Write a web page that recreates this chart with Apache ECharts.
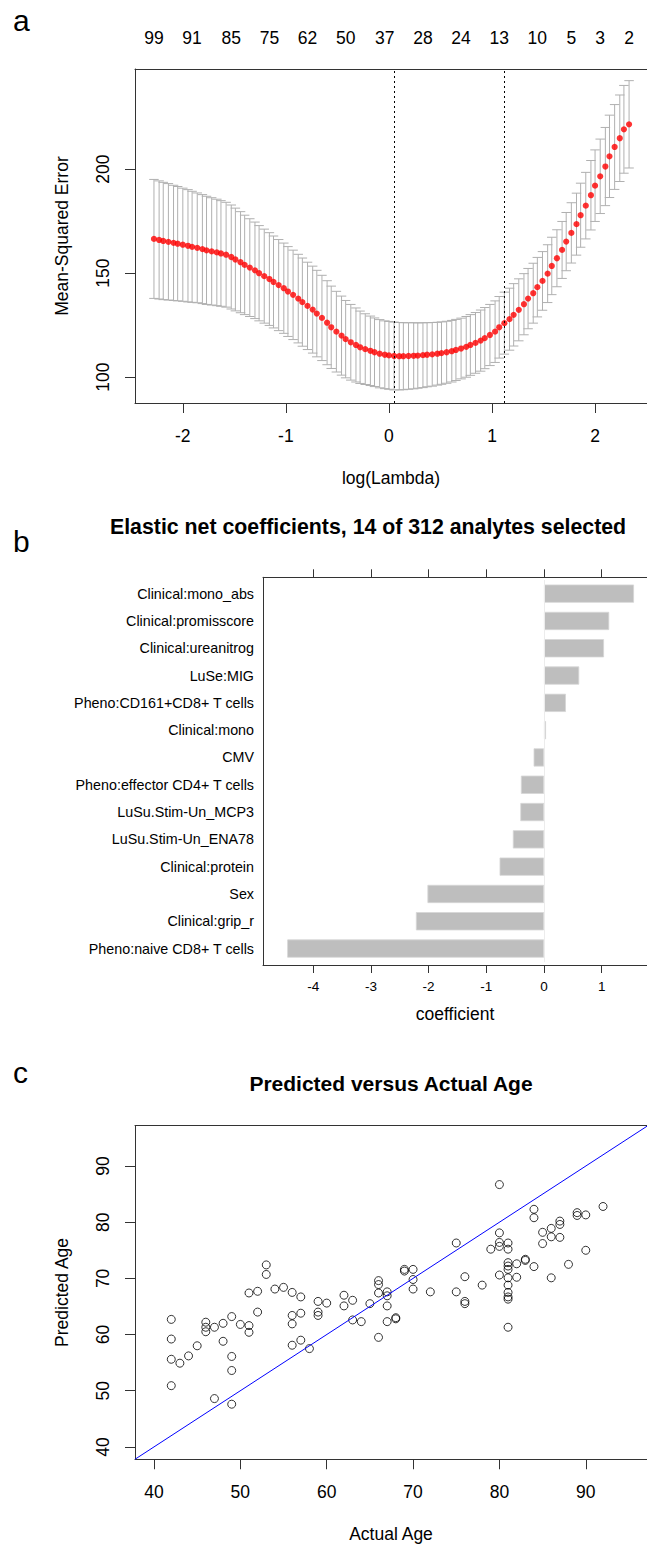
<!DOCTYPE html>
<html>
<head>
<meta charset="utf-8">
<script src="https://cdn.jsdelivr.net/npm/echarts@6/dist/echarts.min.js"></script>
<style>
  html, body { margin: 0; padding: 0; background: #ffffff; }
  #chart { width: 647px; height: 1544px; }
</style>
</head>
<body>
<div id="chart"></div>
<script>
// ---------- (a) cross-validation curve ----------
const logLambda = [
  -2.28, -2.23, -2.19, -2.14, -2.09, -2.05, -2.00, -1.95, -1.91, -1.86,
  -1.81, -1.77, -1.72, -1.67, -1.63, -1.58, -1.53, -1.49, -1.44, -1.40,
  -1.35, -1.30, -1.26, -1.21, -1.16, -1.12, -1.07, -1.02, -0.98, -0.93,
  -0.88, -0.84, -0.79, -0.74, -0.70, -0.65, -0.60, -0.56, -0.51, -0.46,
  -0.42, -0.37, -0.32, -0.28, -0.23, -0.18, -0.14, -0.09, -0.04, 0.00,
  0.05, 0.10, 0.14, 0.19, 0.24, 0.28, 0.33, 0.37, 0.42, 0.47,
  0.51, 0.56, 0.61, 0.65, 0.70, 0.75, 0.79, 0.84, 0.89, 0.93,
  0.98, 1.03, 1.07, 1.12, 1.17, 1.21, 1.26, 1.31, 1.35, 1.40,
  1.44, 1.49, 1.54, 1.58, 1.63, 1.68, 1.72, 1.77, 1.82, 1.86,
  1.91, 1.96, 2.00, 2.05, 2.10, 2.14, 2.19, 2.24, 2.28, 2.33
];
// mean cross-validated error
const cvm = [
  166.5, 166.0, 165.5, 165.1, 164.6, 164.2, 163.7, 163.2, 162.7, 162.2,
  161.6, 161.0, 160.5, 160.0, 159.5, 158.9, 157.8, 156.6, 155.3, 154.0,
  152.7, 151.4, 150.0, 148.6, 147.2, 145.8, 144.3, 142.8, 141.2, 139.6,
  137.8, 136.1, 134.3, 132.5, 130.6, 128.5, 126.2, 124.0, 121.9, 120.0,
  118.3, 116.8, 115.5, 114.4, 113.5, 112.7, 112.0, 111.3, 110.8, 110.5,
  110.2, 110.1, 110.1, 110.2, 110.3, 110.4, 110.6, 110.8, 111.0, 111.3,
  111.6, 112.0, 112.5, 113.1, 113.8, 114.6, 115.5, 116.5, 117.6, 118.8,
  120.3, 121.9, 124.0, 126.0, 127.9, 130.0, 132.4, 135.1, 137.8, 140.4,
  143.3, 146.3, 149.8, 153.5, 157.2, 161.2, 165.2, 169.4, 173.6, 177.9,
  182.5, 187.5, 192.1, 196.6, 201.3, 206.2, 210.7, 214.9, 219.2, 221.6
];
// standard error of the cross-validated error
const cvsd = [
  28.6, 28.4, 28.2, 28.0, 27.7, 27.5, 27.2, 27.0, 26.7, 26.4,
  26.2, 26.0, 25.8, 25.6, 25.4, 25.2, 25.0, 24.7, 24.3, 23.9,
  23.5, 23.2, 22.9, 22.6, 22.3, 22.1, 21.9, 21.7, 21.6, 21.5,
  21.3, 21.2, 21.0, 20.9, 20.8, 20.5, 20.2, 19.8, 19.4, 19.0,
  18.6, 18.2, 17.8, 17.4, 17.0, 16.7, 16.5, 16.4, 16.3, 16.3,
  16.3, 16.2, 16.1, 16.0, 15.9, 15.7, 15.6, 15.4, 15.3, 15.1,
  15.0, 14.9, 14.8, 14.7, 14.6, 14.6, 14.6, 14.6, 14.7, 14.7,
  14.7, 14.8, 14.8, 14.9, 14.9, 15.0, 14.9, 14.7, 14.5, 14.4,
  14.3, 14.1, 13.9, 13.8, 13.7, 13.7, 14.0, 14.5, 14.9, 15.4,
  16.0, 16.7, 17.2, 17.9, 18.8, 19.8, 20.4, 20.8, 21.1, 21.0
];
const lambdaMinIdx = 50;   // lambda.min
const lambda1seIdx = 73;   // lambda.1se
// number of non-zero coefficients shown along the top axis
const nzAtIdx = [0, 8, 16, 24, 32, 40, 48, 56, 64, 72, 80, 87, 93, 99];
const nzCount = [99, 91, 85, 75, 62, 50, 37, 28, 24, 13, 10, 5, 3, 2];
const aXTicks = [-2, -1, 0, 1, 2];
const aYTicks = [100, 150, 200];
const aXLim = [-2.464, 2.504];
const aYLim = [87.6, 248.2];

// ---------- (b) elastic net coefficients ----------
const analytes = [
  'Clinical:mono_abs', 'Clinical:promisscore', 'Clinical:ureanitrog', 'LuSe:MIG',
  'Pheno:CD161+CD8+ T cells', 'Clinical:mono', 'CMV', 'Pheno:effector CD4+ T cells',
  'LuSu.Stim-Un_MCP3', 'LuSu.Stim-Un_ENA78', 'Clinical:protein', 'Sex',
  'Clinical:grip_r', 'Pheno:naive CD8+ T cells'
];
const coefs = [1.56, 1.13, 1.04, 0.61, 0.38, 0.035, -0.18, -0.40, -0.41, -0.54, -0.77, -2.02, -2.22, -4.45];
const bXTicks = [-4, -3, -2, -1, 0, 1];
const bXLim = [-4.870, 1.785];

// ---------- (c) predicted versus actual age ----------
const actualAge = [
  42, 42, 42, 42, 43, 44, 45, 46, 46, 46, 47, 47, 48, 48, 49, 49, 49, 49, 50, 51,
  51, 51, 52, 52, 53, 53, 54, 55, 56, 56, 56, 56,
  57, 57, 57, 58, 59, 59, 59, 60, 62, 62, 63, 63, 64, 65, 66, 66, 66, 66,
  67, 67, 67, 67, 68, 68, 69, 69, 70, 70, 70, 72, 75, 75,
  76, 76, 76, 78, 79, 80, 80, 80, 80, 80, 81, 81, 81, 81, 81, 81, 81, 81, 81, 81,
  81, 82, 82, 83, 83, 84, 84, 84, 85, 85, 86, 86, 86, 87, 87, 87, 88, 89, 89, 90,
  90, 92
];
const predictedAge = [
  62.7, 59.2, 55.6, 50.9, 54.9, 56.2, 58.0, 62.2, 61.3, 60.5, 48.6, 61.3, 62.0, 58.8, 63.2, 56.1, 53.6, 47.6, 61.8, 61.6,
  60.4, 67.4, 67.7, 64.0, 72.4, 70.7, 68.1, 68.4, 67.5, 63.4, 61.9, 58.1,
  66.7, 63.8, 59.0, 57.5, 65.9, 64.0, 63.4, 65.6, 67.0, 65.1, 66.1, 62.6, 62.3, 65.5, 69.6, 68.9, 67.4, 59.5,
  67.6, 66.9, 65.1, 62.3, 63.0, 62.8, 71.6, 71.3, 71.6, 69.8, 68.1, 67.6, 76.3, 67.6,
  70.3, 65.9, 65.5, 68.8, 75.2, 86.7, 78.1, 76.4, 75.7, 70.6, 76.3, 75.2, 72.8, 72.2, 71.6, 70.1, 68.8, 67.5, 66.7, 66.3,
  61.3, 72.6, 70.2, 73.4, 73.2, 82.3, 80.8, 72.1, 78.2, 76.2, 78.9, 77.4, 70.1, 80.2, 79.6, 77.3, 72.5, 81.7, 81.2, 81.3,
  75.0, 82.8
];
const cTicks = [40, 50, 60, 70, 80, 90];
const cXLim = [37.8, 97.09];
const cYLim = [37.8, 97.2];

// ---------- drawing ----------
const FONT = "'Liberation Sans', Arial, Helvetica, sans-serif";
const BOX = '#333333';

const errorBars = logLambda.map((x, i) => [x, cvm[i] - cvsd[i], cvm[i] + cvsd[i]]);
const capHalf = 0.01 * (logLambda[logLambda.length - 1] - logLambda[0]);
const topLabel = {};
nzAtIdx.forEach((idx, k) => { topLabel[String(logLambda[idx])] = nzCount[k]; });
const topValues = nzAtIdx.map(i => logLambda[i]);

function txt(size, extra) {
  return Object.assign({ color: '#000', fontFamily: FONT, fontSize: size, lineHeight: size }, extra || {});
}
const boxLine = { show: true, onZero: false, lineStyle: { color: BOX, width: 1 } };

const chart = echarts.init(document.getElementById('chart'), null, { renderer: 'svg' });

chart.setOption({
  animation: false,
  backgroundColor: '#ffffff',
  textStyle: { fontFamily: FONT },
  grid: [
    { left: 135, top: 69, width: 512, height: 334 },
    { left: 263, top: 577.3, width: 384, height: 387.7 },
    { left: 263, top: 580.0, width: 384, height: 382.2 },
    { left: 135, top: 1125.6, width: 512, height: 334.1 }
  ],
  xAxis: [
    { // (a) bottom
      gridIndex: 0, type: 'value', position: 'bottom', min: aXLim[0], max: aXLim[1],
      axisLine: boxLine,
      axisTick: { show: true, customValues: aXTicks, length: 10, lineStyle: { color: BOX } },
      axisLabel: txt(17.5, { customValues: aXTicks, margin: 24 }),
      splitLine: { show: false },
      name: 'log(Lambda)', nameLocation: 'middle', nameGap: 66, nameTextStyle: txt(17.5)
    },
    { // (a) top: model size
      gridIndex: 0, type: 'value', position: 'top', min: aXLim[0], max: aXLim[1],
      axisLine: boxLine, axisTick: { show: false }, splitLine: { show: false },
      axisLabel: txt(17.5, { customValues: topValues, margin: 22, formatter: v => String(topLabel[String(v)] ?? '') })
    },
    { // (b) bottom
      gridIndex: 1, type: 'value', position: 'bottom', min: bXLim[0], max: bXLim[1],
      axisLine: boxLine,
      axisTick: { show: true, customValues: bXTicks, length: 8, lineStyle: { color: BOX } },
      axisLabel: txt(13.5, { customValues: bXTicks, margin: 15 }),
      splitLine: { show: false },
      name: 'coefficient', nameLocation: 'middle', nameGap: 40, nameTextStyle: txt(17.5)
    },
    { // (b) top ticks
      gridIndex: 1, type: 'value', position: 'top', min: bXLim[0], max: bXLim[1],
      axisLine: boxLine,
      axisTick: { show: true, customValues: bXTicks, length: 8, lineStyle: { color: BOX } },
      axisLabel: { show: false }, splitLine: { show: false }
    },
    { // (b) bar scale
      gridIndex: 2, type: 'value', min: bXLim[0], max: bXLim[1], show: false, splitLine: { show: false }
    },
    { // (c) bottom
      gridIndex: 3, type: 'value', position: 'bottom', min: cXLim[0], max: cXLim[1],
      axisLine: boxLine,
      axisTick: { show: true, customValues: cTicks, length: 10, lineStyle: { color: BOX } },
      axisLabel: txt(17.5, { customValues: cTicks, margin: 24 }),
      splitLine: { show: false },
      name: 'Actual Age', nameLocation: 'middle', nameGap: 66, nameTextStyle: txt(17.5)
    },
    { // (c) top edge of the box
      gridIndex: 3, type: 'value', position: 'top', min: cXLim[0], max: cXLim[1],
      axisLine: boxLine, axisTick: { show: false }, axisLabel: { show: false }, splitLine: { show: false }
    }
  ],
  yAxis: [
    { // (a)
      gridIndex: 0, type: 'value', min: aYLim[0], max: aYLim[1],
      axisLine: boxLine,
      axisTick: { show: true, customValues: aYTicks, length: 10, lineStyle: { color: BOX } },
      axisLabel: txt(17.5, { customValues: aYTicks, rotate: 90, margin: 23 }),
      splitLine: { show: false },
      name: 'Mean-Squared Error', nameLocation: 'middle', nameRotate: 90, nameGap: 64, nameTextStyle: txt(17.5)
    },
    { // (b) left edge of the box
      gridIndex: 1, type: 'value', min: 0, max: 1,
      axisLine: boxLine, axisTick: { show: false }, axisLabel: { show: false }, splitLine: { show: false }
    },
    { // (b) analytes
      gridIndex: 2, type: 'category', data: analytes, inverse: true,
      axisLine: { show: false }, axisTick: { show: false }, splitLine: { show: false },
      axisLabel: txt(14.3, { interval: 0, margin: 9 })
    },
    { // (c)
      gridIndex: 3, type: 'value', min: cYLim[0], max: cYLim[1],
      axisLine: boxLine,
      axisTick: { show: true, customValues: cTicks, length: 10, lineStyle: { color: BOX } },
      axisLabel: txt(17.5, { customValues: cTicks, rotate: 90, margin: 23 }),
      splitLine: { show: false },
      name: 'Predicted Age', nameLocation: 'middle', nameRotate: 90, nameGap: 64, nameTextStyle: txt(17.5)
    }
  ],
  series: [
    { // (a) error bars: cvm +/- cvsd
      type: 'custom', xAxisIndex: 0, yAxisIndex: 0, data: errorBars,
      encode: { x: 0, y: [1, 2] }, clip: true, silent: true,
      renderItem: function (params, api) {
        const x = api.value(0), lo = api.value(1), hi = api.value(2);
        const top = api.coord([x, hi]);
        const bot = api.coord([x, lo]);
        const xl = api.coord([x - capHalf, hi])[0];
        const xr = api.coord([x + capHalf, hi])[0];
        const st = { stroke: '#b0b0b0', lineWidth: 1 };
        return {
          type: 'group',
          children: [
            { type: 'line', shape: { x1: top[0], y1: top[1], x2: bot[0], y2: bot[1] }, style: st },
            { type: 'line', shape: { x1: xl, y1: top[1], x2: xr, y2: top[1] }, style: st },
            { type: 'line', shape: { x1: xl, y1: bot[1], x2: xr, y2: bot[1] }, style: st }
          ]
        };
      },
      z: 2
    },
    { // (a) mean error
      type: 'scatter', xAxisIndex: 0, yAxisIndex: 0,
      data: logLambda.map((x, i) => [x, cvm[i]]),
      symbol: 'circle', symbolSize: 6.2,
      itemStyle: { color: '#ff0000' }, silent: true, z: 3,
      markLine: {
        silent: true, symbol: 'none', label: { show: false },
        lineStyle: { color: '#000', width: 1, type: [2, 3] },
        data: [{ xAxis: logLambda[lambdaMinIdx] }, { xAxis: logLambda[lambda1seIdx] }]
      }
    },
    { // (b) coefficient bars
      type: 'bar', xAxisIndex: 4, yAxisIndex: 2, data: coefs,
      barWidth: '66.7%', silent: true,
      itemStyle: { color: '#bebebe', borderColor: '#d6d6d6', borderWidth: 0.8 },
      markLine: {
        silent: true, symbol: 'none', label: { show: false },
        lineStyle: { color: '#ececec', width: 1, type: 'solid' },
        data: [{ xAxis: 0 }]
      }
    },
    { // (c) identity line
      type: 'line', xAxisIndex: 5, yAxisIndex: 3,
      data: [[cYLim[0], cYLim[0]], [cYLim[1], cYLim[1]]],
      showSymbol: false, symbol: 'none', silent: true, clip: true,
      lineStyle: { color: '#0000ff', width: 1 }
    },
    { // (c) subjects
      type: 'scatter', xAxisIndex: 5, yAxisIndex: 3,
      data: actualAge.map((a, i) => [a, predictedAge[i]]),
      symbol: 'circle', symbolSize: 8, silent: true,
      itemStyle: { color: 'rgba(0,0,0,0)', borderColor: '#000', borderWidth: 1 }
    }
  ],
  graphic: [
    { type: 'text', x: 13, y: 20, style: { text: 'a', fill: '#000', font: '30px ' + FONT, textAlign: 'left', textVerticalAlign: 'middle' } },
    { type: 'text', x: 13, y: 541.7, style: { text: 'b', fill: '#000', font: '30px ' + FONT, textAlign: 'left', textVerticalAlign: 'middle' } },
    { type: 'text', x: 13, y: 1072, style: { text: 'c', fill: '#000', font: '30px ' + FONT, textAlign: 'left', textVerticalAlign: 'middle' } },
    { type: 'text', x: 110, y: 527.3, style: { text: 'Elastic net coefficients, 14 of 312 analytes selected', fill: '#000', font: 'bold 21.3px ' + FONT, textAlign: 'left', textVerticalAlign: 'middle' } },
    { type: 'text', x: 391, y: 1083, style: { text: 'Predicted versus Actual Age', fill: '#000', font: 'bold 21px ' + FONT, textAlign: 'center', textVerticalAlign: 'middle' } }
  ]
});
</script>
</body>
</html>
